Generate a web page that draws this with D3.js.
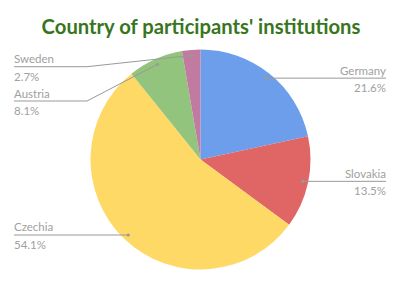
<!DOCTYPE html>
<html>
<head>
<meta charset="utf-8">
<script src="https://cdn.jsdelivr.net/npm/d3@7"></script>
<style>
  html, body { margin: 0; padding: 0; background: #fff; }
  svg { display: block; }
</style>
</head>
<body>
<svg id="chart" width="401" height="285"></svg>
<script>
// ---- data ----
const countries = ["Germany", "Slovakia", "Czechia", "Austria", "Sweden"];
const shares = [21.6, 13.5, 54.1, 8.1, 2.7];
const colors = ["#6d9eeb", "#e06666", "#ffd966", "#93c47d", "#c27ba0"];
const title = "Country of participants' institutions";

// ---- layout ----
const W = 401, H = 285;
const cx = 200.5, cy = 159.5, R = 110;
const labelRight = 386, labelLeft = 14, bendX = 87;

const svg = d3.select("#chart");
svg.append("rect").attr("width", W).attr("height", H).attr("fill", "#fff");

// title
const t = svg.append("text")
  .attr("x", 201).attr("y", 33.5)
  .attr("text-anchor", "middle")
  .attr("fill", "#38761d")
  .attr("font-family", "Lato, 'Open Sans', sans-serif")
  .attr("font-weight", "bold")
  .attr("font-size", 20)
  .text(title);
const tw = t.node().getComputedTextLength();
t.attr("font-size", 20 * 319 / tw);

const data = countries.map((c, i) => ({ name: c, value: shares[i], color: colors[i] }));

const pie = d3.pie().value(d => d.value).sort(null);
const arcs = pie(data);
const arc = d3.arc().innerRadius(0).outerRadius(R);

const g = svg.append("g").attr("transform", `translate(${cx},${cy})`);
g.selectAll("path.slice").data(arcs).join("path")
  .attr("class", "slice")
  .attr("d", arc)
  .attr("fill", d => d.data.color);

// label positions
const items = arcs.map(a => {
  const mid = (a.startAngle + a.endAngle) / 2;
  const r = R * 0.95;
  const x = cx + r * Math.sin(mid);
  const y = cy - r * Math.cos(mid);
  return { a, x, y, right: mid < Math.PI };
});
// left side: stack from top with minimum gap
const left = items.filter(d => !d.right).sort((p, q) => p.y - q.y);
let minY = 66.7;
const gap = 34.3;
left.forEach(d => {
  d.ly = Math.max(d.y, minY);
  minY = d.ly + gap;
});
items.filter(d => d.right).forEach(d => { d.ly = d.y; });

const lab = svg.append("g");
items.forEach(d => {
  const endX = d.right ? labelRight : labelLeft;
  let pts;
  if (Math.abs(d.ly - d.y) < 0.5) {
    pts = [[d.x, d.y], [endX, d.y]];
  } else {
    pts = [[d.x, d.y], [bendX, d.ly], [endX, d.ly]];
  }
  lab.append("path")
    .attr("d", d3.line()(pts))
    .attr("fill", "none")
    .attr("stroke", "#999")
    .attr("stroke-width", 1);
  lab.append("circle").attr("cx", d.x).attr("cy", d.y).attr("r", 1.6).attr("fill", "#999");
  const anchor = d.right ? "end" : "start";
  lab.append("text")
    .attr("x", endX).attr("y", d.ly - 3.5)
    .attr("text-anchor", anchor)
    .attr("fill", "#a0a0a0")
    .attr("font-family", "Lato, 'Open Sans', sans-serif")
    .attr("font-size", 11.5)
    .text(d.a.data.name);
  lab.append("text")
    .attr("x", endX).attr("y", d.ly + 14)
    .attr("text-anchor", anchor)
    .attr("fill", "#a0a0a0")
    .attr("font-family", "Lato, 'Open Sans', sans-serif")
    .attr("font-size", 11.5)
    .text(d.a.data.value.toFixed(1) + "%");
});
</script>
</body>
</html>
